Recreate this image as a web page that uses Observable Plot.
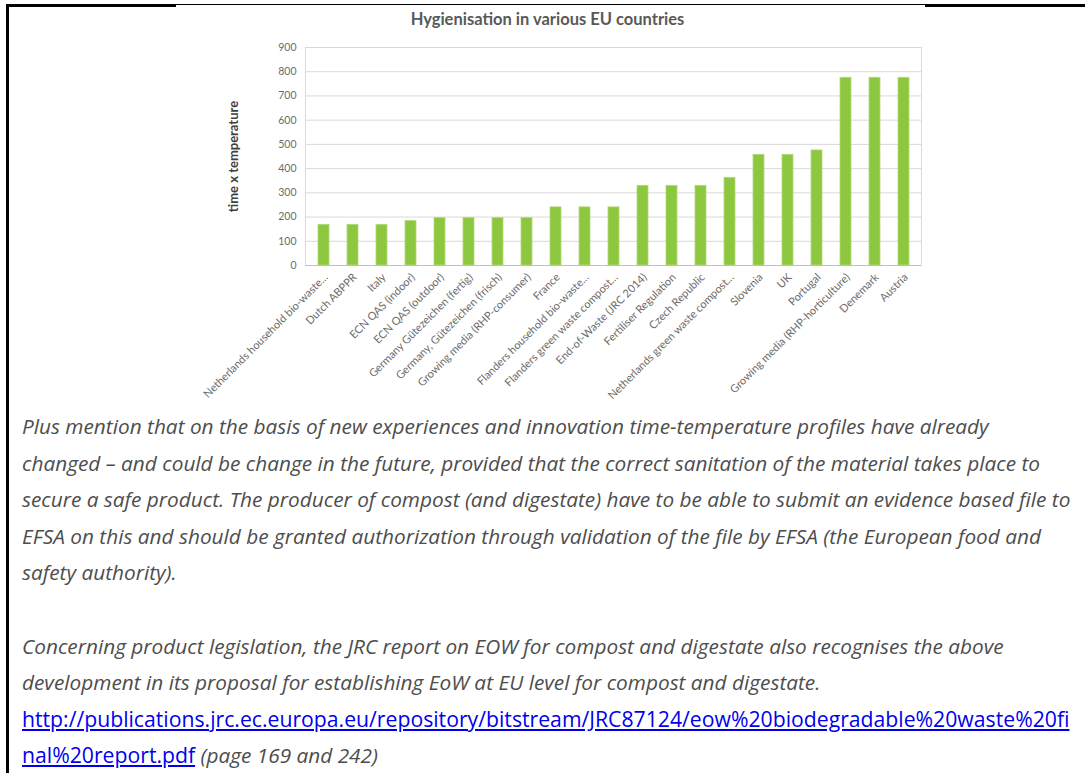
<!DOCTYPE html>
<html>
<head>
<meta charset="utf-8">
<script src="https://cdn.jsdelivr.net/npm/d3@7"></script>
<script src="https://cdn.jsdelivr.net/npm/@observablehq/plot@0.6"></script>
<style>
  html, body { margin: 0; padding: 0; background: #fff; }
  #page { position: relative; width: 1085px; height: 773px; overflow: hidden; }
  .bar-line { position: absolute; background: #000; }
  #title { position: absolute; left: 0; top: 9px; width: 1095px; text-align: center;
    font-family: Lato, "Open Sans", sans-serif; font-weight: bold; font-size: 16.5px; color: #595959; }
  #chart { position: absolute; left: 0; top: 0; }
  #text { position: absolute; left: 22px; top: 408px; width: 1070px;
    font-family: "Open Sans", Lato, sans-serif; font-style: italic; font-size: 20.8px; line-height: 36.6px;
    color: #4d4d4d; white-space: nowrap; }
  #text p { margin: 0 0 36.6px 0; }
  #text a { color: #0000ee; font-style: normal; text-decoration: underline; font-size: 1.02em; }
</style>
</head>
<body>
<div id="page">
  <div class="bar-line" style="left:6px; top:4px; width:3px; height:769px;"></div>
  <div class="bar-line" style="left:6px; top:4px; width:170px; height:3px;"></div>
  <div class="bar-line" style="left:176px; top:4px; width:750px; height:1px;"></div>
  <div class="bar-line" style="left:925px; top:4px; width:160px; height:3px;"></div>
  <div id="title">Hygienisation in various EU countries</div>
  <div id="chart"></div>
  <div id="text">
    <p>Plus mention that on the basis of new experiences and innovation time-temperature profiles have already<br>
    changed – and could be change in the future, provided that the correct sanitation of the material takes place to<br>
    secure a safe product. The producer of compost (and digestate) have to be able to submit an evidence based file to<br>
    EFSA on this and should be granted authorization through validation of the file by EFSA (the European food and<br>
    safety authority).</p>
    <p>Concerning product legislation, the JRC report on EOW for compost and digestate also recognises the above<br>
    development in its proposal for establishing EoW at EU level for compost and digestate.<br>
    <a href="#">http://publications.jrc.ec.europa.eu/repository/bitstream/JRC87124/eow%20biodegradable%20waste%20fi</a><br>
    <a href="#">nal%20report.pdf</a> (page 169 and 242)</p>
  </div>
</div>
<script>
const categories = [
  "Netherlands household bio-waste...",
  "Dutch ABPPR",
  "Italy",
  "ECN QAS (indoor)",
  "ECN QAS (outdoor)",
  "Germany Gütezeichen (fertig)",
  "Germany, Gütezeichen (frisch)",
  "Growing media (RHP-consumer)",
  "France",
  "Flanders household bio-waste...",
  "Flanders green waste compost...",
  "End-of-Waste (JRC 2014)",
  "Fertiliser Regulation",
  "Czech Republic",
  "Netherlands green waste compost...",
  "Slovenia",
  "UK",
  "Portugal",
  "Growing media (RHP-horticulture)",
  "Denemark",
  "Austria"
];
const values = [168, 168, 168, 184, 196, 196, 196, 196, 240, 240, 240, 329, 329, 329, 362, 457, 457, 475, 775, 775, 775];
const yTicks = [0, 100, 200, 300, 400, 500, 600, 700, 800, 900];
const yLabel = "time x temperature";

const data = categories.map((c, i) => ({category: c, value: values[i]}));

const chart = Plot.plot({
  width: 1085,
  height: 410,
  marginTop: 47,
  marginBottom: 145,
  marginLeft: 305,
  marginRight: 164,
  style: {fontFamily: "Lato, 'Open Sans', sans-serif", fontSize: "10px", color: "#595959", background: "transparent"},
  x: {domain: categories, paddingInner: 0.625, paddingOuter: 0.3125},
  y: {domain: [0, 900]},
  marks: [
    Plot.gridY(yTicks, {stroke: "#d9d9d9", strokeOpacity: 1, strokeWidth: 1}),
    Plot.frame({stroke: "#d9d9d9", strokeWidth: 1}),
    Plot.barY(data, {x: "category", y: "value", fill: "#8dc63f", stroke: "#b3da7a", strokeWidth: 0.8}),
    Plot.ruleY([0], {stroke: "#bfbfbf", strokeWidth: 1}),
    Plot.axisY({ticks: yTicks, tickSize: 0, tickPadding: 9, fontSize: 10.5, fill: "#6b6b6b",
      label: yLabel, labelAnchor: "center", labelArrow: "none", labelOffset: 77}),
    Plot.axisX({tickSize: 0, tickPadding: 10, tickRotate: -45, fontSize: 11, fill: "#6b6b6b", dx: 2, label: null})
  ]
});
chart.querySelectorAll("[aria-label='y-axis label'] text, [aria-label='y-axis label']").forEach(el => {
  el.setAttribute("font-weight", "bold");
  el.setAttribute("fill", "#404040");
  el.setAttribute("font-size", "13");
});
document.getElementById("chart").appendChild(chart);
</script>
</body>
</html>
